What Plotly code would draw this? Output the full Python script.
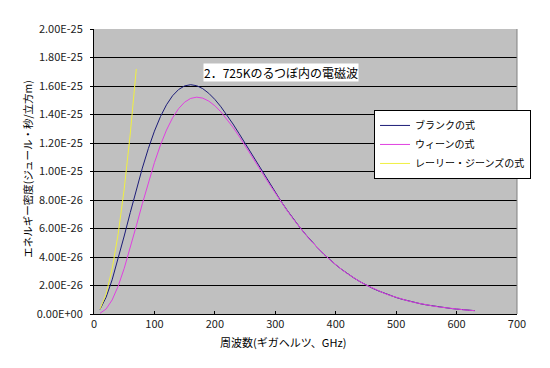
import plotly.graph_objects as go

# Frequency (GHz)
freq_ghz = [10, 20, 30, 40, 50, 60, 70, 80, 90, 100,
            110, 120, 130, 140, 150, 160, 170, 180, 190, 200,
            210, 220, 230, 240, 250, 260, 270, 280, 290, 300,
            310, 320, 330, 340, 350, 360, 370, 380, 390, 400,
            410, 420, 430, 440, 450, 460, 470, 480, 490, 500,
            510, 520, 530, 540, 550, 560, 570, 580, 590, 600,
            610, 620, 630]

# Energy density, in units of 1e-26 J*s/m^3
planck_e26 = [0.321, 1.171, 2.398, 3.868, 5.472, 7.115, 8.723, 10.239, 11.618, 12.830,
              13.855, 14.684, 15.315, 15.753, 16.008, 16.091, 16.020, 15.812, 15.485, 15.056,
              14.544, 13.965, 13.335, 12.669, 11.979, 11.276, 10.572, 9.873, 9.187, 8.520,
              7.877, 7.260, 6.673, 6.117, 5.593, 5.102, 4.643, 4.217, 3.822, 3.457,
              3.122, 2.814, 2.532, 2.274, 2.040, 1.827, 1.634, 1.460, 1.302, 1.160,
              1.032, 0.917, 0.815, 0.722, 0.640, 0.567, 0.501, 0.443, 0.391, 0.345,
              0.304, 0.267, 0.235]

wien_e26 = [0.052, 0.348, 0.984, 1.956, 3.203, 4.641, 6.180, 7.736, 9.236, 10.624,
            11.858, 12.909, 13.763, 14.414, 14.867, 15.130, 15.217, 15.148, 14.939, 14.611,
            14.183, 13.675, 13.103, 12.483, 11.832, 11.160, 10.480, 9.802, 9.131, 8.477,
            7.843, 7.234, 6.653, 6.101, 5.581, 5.093, 4.637, 4.212, 3.818, 3.454,
            3.119, 2.812, 2.530, 2.273, 2.039, 1.827, 1.634, 1.459, 1.302, 1.160,
            1.032, 0.917, 0.814, 0.722, 0.640, 0.567, 0.501, 0.443, 0.391, 0.345,
            0.304, 0.267, 0.235]

rj_freq_ghz = [10, 20, 30, 40, 50, 60, 70]
rj_e26 = [0.351, 1.404, 3.159, 5.616, 8.775, 12.635, 17.198]

UNIT = 1e-26

y_tickvals = [0, 2e-26, 4e-26, 6e-26, 8e-26, 1e-25, 1.2e-25, 1.4e-25, 1.6e-25, 1.8e-25, 2e-25]
y_ticktext = ["0.00E+00", "2.00E-26", "4.00E-26", "6.00E-26", "8.00E-26", "1.00E-25",
              "1.20E-25", "1.40E-25", "1.60E-25", "1.80E-25", "2.00E-25"]
x_tickvals = [0, 100, 200, 300, 400, 500, 600, 700]

series_names = ["ブランクの式", "ウィーンの式", "レーリー・ジーンズの式"]
title_text = "2．725Kのるつぼ内の電磁波"
x_title = "周波数(ギガヘルツ、GHz)"
y_title = "エネルギー密度(ジュール・秒/立方m)"

FONT = "Noto Sans CJK JP"

fig = go.Figure()
fig.add_trace(go.Scatter(x=freq_ghz, y=[v * UNIT for v in planck_e26], mode="lines",
                         name=series_names[0], line=dict(color="#1c1c78", width=1)))
fig.add_trace(go.Scatter(x=freq_ghz, y=[v * UNIT for v in wien_e26], mode="lines",
                         name=series_names[1], line=dict(color="#e040e0", width=1)))
fig.add_trace(go.Scatter(x=rj_freq_ghz, y=[v * UNIT for v in rj_e26], mode="lines",
                         name=series_names[2], line=dict(color="#f0f040", width=1)))

# the page body adds an ~8px offset; margins compensate for it
fig.update_layout(
    width=550, height=368,
    margin=dict(l=86, r=41, t=21, b=62, autoexpand=False),
    paper_bgcolor="white",
    plot_bgcolor="#c0c0c0",
    font=dict(family=FONT, size=11, color="#000000"),
    showlegend=True,
    legend=dict(x=0.662, y=0.716, xanchor="left", yanchor="top",
                bgcolor="white", bordercolor="black", borderwidth=1,
                font=dict(family=FONT, size=10), tracegroupgap=0,
                itemwidth=30),
    xaxis=dict(range=[0, 700], tickvals=x_tickvals, showgrid=False, zeroline=False,
               showline=True, linecolor="black", linewidth=1, automargin=False,
               ticks="inside", ticklen=3, tickcolor="black",
               tickfont=dict(family=FONT, size=11, color="#222222")),
    yaxis=dict(range=[0, 2e-25], tickvals=y_tickvals, ticktext=y_ticktext,
               showgrid=True, gridcolor="#000000", gridwidth=1, zeroline=False,
               showline=True, linecolor="black", linewidth=1, automargin=False,
               ticks="outside", ticklen=3, tickcolor="black", ticklabelstandoff=5,
               tickfont=dict(family=FONT, size=11, color="#222222")),
    annotations=[
        dict(text=title_text, x=0.442, y=0.846, xref="paper", yref="paper",
             showarrow=False, bgcolor="white", font=dict(family=FONT, size=12, color="black"),
             xanchor="center", yanchor="middle", borderpad=0),
        dict(text=x_title, x=0.447, y=-0.097, xref="paper", yref="paper",
             showarrow=False, font=dict(family=FONT, size=11, color="black"),
             xanchor="center", yanchor="middle"),
        dict(text=y_title, x=-0.158, y=0.51, xref="paper", yref="paper",
             showarrow=False, textangle=-90, font=dict(family=FONT, size=10.5, color="black"),
             xanchor="center", yanchor="middle"),
    ],
    shapes=[dict(type="line", xref="paper", yref="paper", x0=1, x1=1, y0=0, y1=1,
                 line=dict(color="#808080", width=1))],
)

fig.write_html("out.html")
